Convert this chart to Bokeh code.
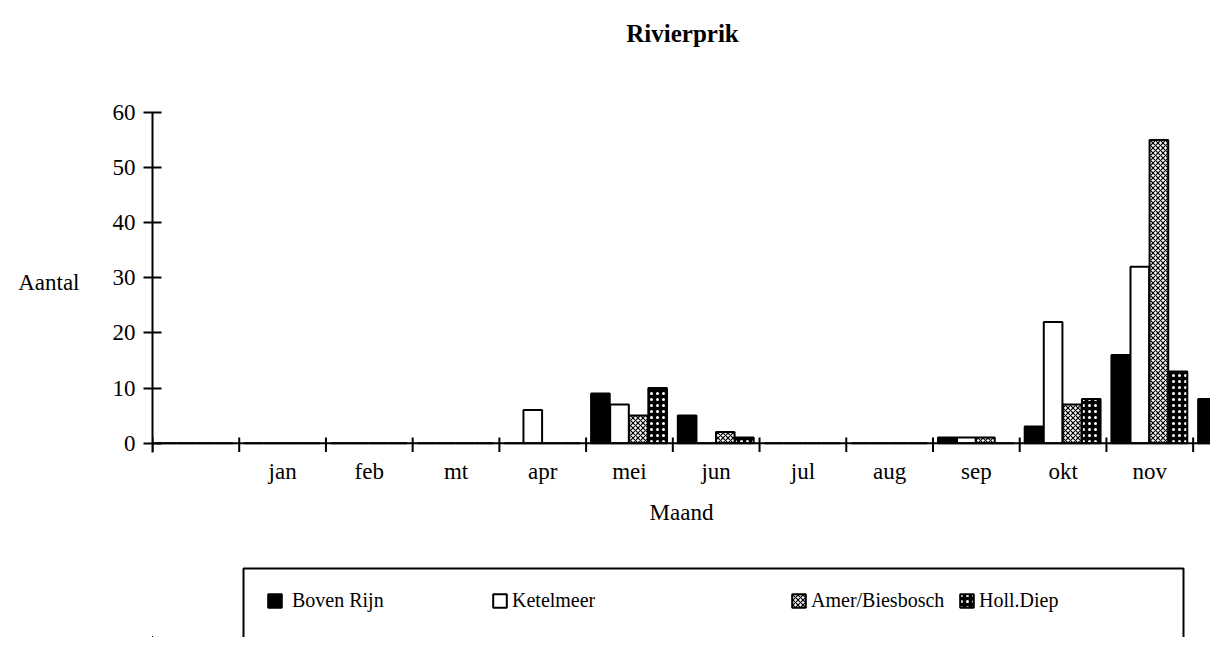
from bokeh.plotting import figure
from bokeh.layouts import column
from bokeh.models import (FixedTicker, Span, Legend, LegendItem, Range1d, Label,
                          BoxAnnotation)
from bokeh.embed import file_html
from bokeh.resources import INLINE

# ---- data ----
# slot 0 is unlabeled, slots 1..11 are jan..nov, slot 12 (dec) is cut off by the right edge
title_text = "Rivierprik"
months = ["jan", "feb", "mt", "apr", "mei", "jun", "jul", "aug", "sep", "okt", "nov"]
series_names = ["Boven Rijn", "Ketelmeer", "Amer/Biesbosch", "Holl.Diep"]
boven_rijn = [0, 0, 0, 0, 0, 9, 5, 0, 0, 1, 3, 16, 8]
ketelmeer = [0, 0, 0, 0, 6, 7, 0, 0, 0, 1, 22, 32, 0]
amer_biesbosch = [0, 0, 0, 0, 0, 5, 2, 0, 0, 1, 7, 55, 0]
holl_diep = [0, 0, 0, 0, 0, 10, 1, 0, 0, 0, 8, 13, 0]
y_ticks = [0, 10, 20, 30, 40, 50, 60]

FONT = "Liberation Serif"
W = 1210
LEFT = 152          # frame left edge (page px); all stacked figures share it
slots = list(range(len(boven_rijn)))
values = [boven_rijn, ketelmeer, amer_biesbosch, holl_diep]
styles = [
    dict(fill_color="black"),
    dict(fill_color="white"),
    dict(fill_color="white", hatch_pattern="diagonal_cross", hatch_color="black",
         hatch_scale=5, hatch_weight=1.2),
    dict(fill_color="black", hatch_pattern="dot", hatch_color="white",
         hatch_scale=6),
]


def bar_x(k):
    return [s + 0.165 + 0.22 * k for s in slots]


def bare(height, y0=0):
    # pixel-scaled helper figure whose frame lines up with the main frame
    f = figure(width=W, height=height, output_backend="svg", toolbar_location=None,
               x_range=Range1d(LEFT, W), y_range=Range1d(y0, y0 + height),
               x_axis_location=None, y_axis_location=None, min_border=0,
               outline_line_color=None)
    f.grid.visible = False
    return f


# ---- header with the title ----
head = bare(60)
head.add_layout(Label(x=682, y=27, text=title_text, text_align="center",
                      text_baseline="middle", text_font=FONT, text_font_size="25px",
                      text_font_style="bold", text_color="black"))

# ---- main chart ----
p = figure(width=W, height=500, output_backend="svg", toolbar_location=None,
           x_range=Range1d(0, 12.2), y_range=Range1d(-1.7, 60),
           min_border_left=LEFT, min_border_right=0, min_border_top=52,
           min_border_bottom=108, outline_line_color=None)
p.grid.visible = False

ya = p.yaxis[0]
ya.ticker = FixedTicker(ticks=y_ticks)
ya.major_tick_in = 9
ya.major_tick_out = 9
ya.minor_tick_line_color = None
ya.axis_line_width = 2
ya.major_tick_line_width = 2
ya.major_label_text_font = FONT
ya.major_label_text_font_size = "23px"
ya.major_label_text_color = "black"
ya.major_label_standoff = 8
ya.axis_label = "Aantal"
ya.axis_label_orientation = "horizontal"
ya.axis_label_text_font = FONT
ya.axis_label_text_font_size = "23px"
ya.axis_label_text_font_style = "normal"
ya.axis_label_text_color = "black"
ya.axis_label_standoff = 30

xa = p.xaxis[0]
xa.ticker = FixedTicker(ticks=[i + 0.5 for i in range(1, len(months) + 1)])
xa.major_label_overrides = {i + 0.5: m for i, m in enumerate(months, start=1)}
xa.axis_line_color = None
xa.major_tick_line_color = None
xa.minor_tick_line_color = None
xa.major_tick_in = 0
xa.major_tick_out = 0
xa.major_label_text_font = FONT
xa.major_label_text_font_size = "23px"
xa.major_label_text_color = "black"
xa.major_label_standoff = 6
xa.axis_label = "Maand"
xa.axis_label_text_font = FONT
xa.axis_label_text_font_size = "23px"
xa.axis_label_text_font_style = "normal"
xa.axis_label_text_color = "black"
xa.axis_label_standoff = 13

p.add_layout(Span(location=0, dimension="width", line_color="black", line_width=2))
p.segment(x0=slots, y0=[-1.6] * len(slots), x1=slots, y1=[1.0] * len(slots),
          line_color="black", line_width=2)

for k, (vals, st) in enumerate(zip(values, styles)):
    p.vbar(x=bar_x(k), top=vals, bottom=0, width=0.215, line_color="black",
           line_width=2, **st)

# ---- legend strip (y units = px, offset so the swatch series lie out of view) ----
Y0 = 100
foot = bare(77, y0=Y0)
# legend frame (open at the bottom, as in the scan)
foot.add_layout(BoxAnnotation(left=243, right=1183, top=Y0 + 69, bottom=Y0 - 20,
                              fill_color=None, fill_alpha=0, line_color="black",
                              line_alpha=1, line_width=2))
# swatch renderers: same series, lying outside this strip's visible ranges
swatches = [foot.vbar(x=bar_x(k), top=vals, width=0.215, line_color="black",
                      line_width=2, **st)
            for k, (vals, st) in enumerate(zip(values, styles))]
leg_x = [114, 339, 638, 806]
leg_standoff = [9, 4, 4, 4]
for name, r, lx, sd in zip(series_names, swatches, leg_x, leg_standoff):
    foot.add_layout(Legend(items=[LegendItem(label=name, renderers=[r])],
                           location=(lx, 25), padding=0, margin=0,
                           glyph_width=17, glyph_height=17, label_standoff=sd,
                           label_text_font=FONT, label_text_font_size="20px",
                           label_text_color="black", border_line_color=None,
                           background_fill_alpha=0), "center")

layout = column(head, p, foot, spacing=0)
open("out.html", "w").write(file_html(layout, INLINE))
